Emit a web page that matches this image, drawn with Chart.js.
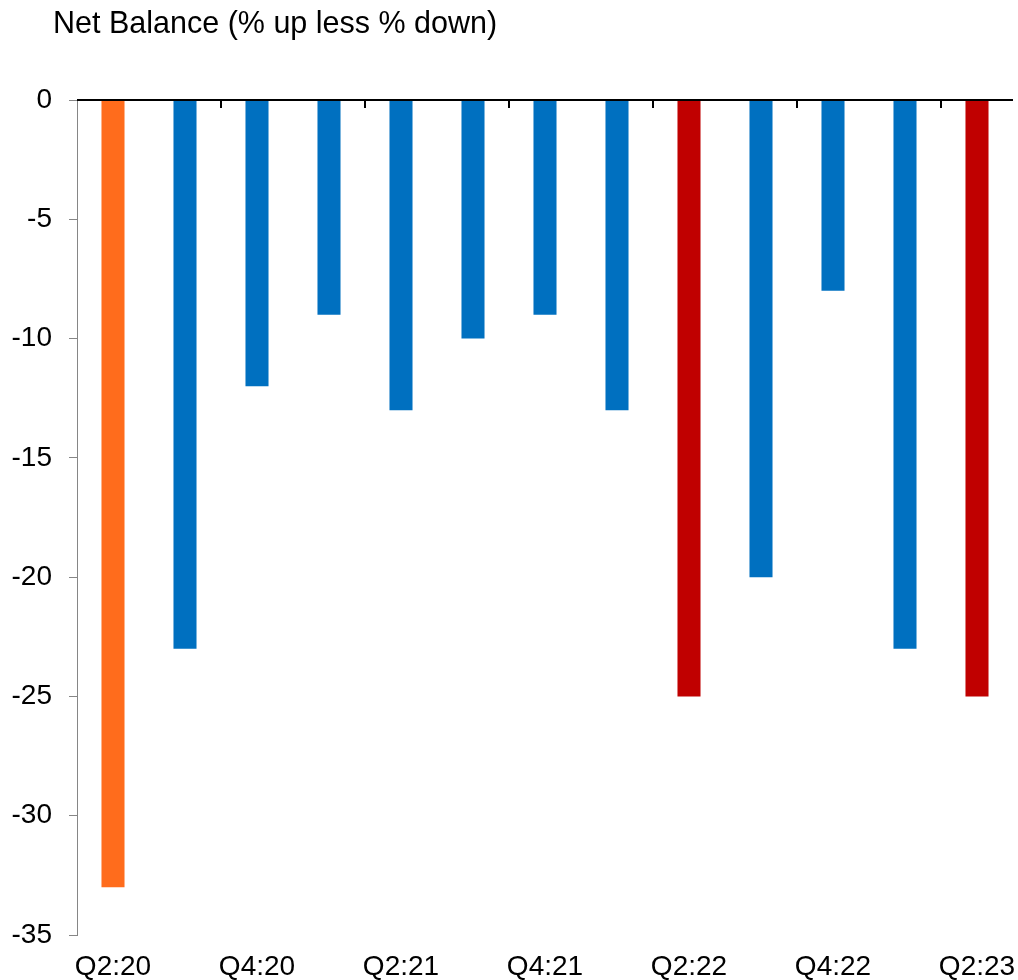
<!DOCTYPE html>
<html>
<head>
<meta charset="utf-8">
<script src="https://cdn.jsdelivr.net/npm/chart.js@4"></script>
<style>
  html, body { margin: 0; padding: 0; background: #ffffff; }
  #wrap { position: relative; width: 1018px; height: 980px; }
  #title {
    position: absolute; left: 53px; top: 5px;
    font-family: "Liberation Sans", Arial, sans-serif;
    font-size: 30.5px; color: #000000; white-space: nowrap;
  }
  canvas { position: absolute; left: 0; top: 0; }
</style>
</head>
<body>
<div id="wrap">
  <canvas id="chart" width="1018" height="980"></canvas>
  <div id="title">Net Balance (% up less % down)</div>
</div>
<script>
// Quarterly survey results
const quarters = ['Q2:20', 'Q3:20', 'Q4:20', 'Q1:21', 'Q2:21', 'Q3:21', 'Q4:21',
                  'Q1:22', 'Q2:22', 'Q3:22', 'Q4:22', 'Q1:23', 'Q2:23'];
const netBalance = [-33, -23, -12, -9, -13, -10, -9, -13, -25, -20, -8, -23, -25];
const yTicks = [0, -5, -10, -15, -20, -25, -30, -35];

// Bar colours: first quarter orange, Q2 of 2022 and 2023 red, the rest blue
const barColours = ['#FF6C1C', '#0070C0', '#0070C0', '#0070C0', '#0070C0', '#0070C0', '#0070C0',
                    '#0070C0', '#C00000', '#0070C0', '#0070C0', '#0070C0', '#C00000'];

const FONT = 'Liberation Sans, Arial, sans-serif';

// Zero line with short inward tick marks every second quarter boundary
const zeroAxis = {
  id: 'zeroAxis',
  afterDatasetsDraw(chart) {
    const { ctx, chartArea, scales } = chart;
    const x = scales.x, y = scales.y;
    const y0 = y.getPixelForValue(0);
    ctx.save();
    ctx.strokeStyle = '#000000';
    ctx.lineWidth = 2;
    ctx.beginPath();
    ctx.moveTo(chartArea.left, y0);
    ctx.lineTo(chartArea.right, y0);
    ctx.stroke();
    for (let i = 1; i < quarters.length - 1; i += 2) {
      const bx = Math.round((x.getPixelForValue(i) + x.getPixelForValue(i + 1)) / 2);
      ctx.beginPath();
      ctx.moveTo(bx, y0);
      ctx.lineTo(bx, y0 + 8);
      ctx.stroke();
    }
    ctx.restore();
  }
};

new Chart(document.getElementById('chart'), {
  type: 'bar',
  data: {
    labels: quarters,
    datasets: [{
      data: netBalance,
      backgroundColor: barColours,
      borderWidth: 0,
      categoryPercentage: 1,
      barPercentage: 0.32
    }]
  },
  options: {
    responsive: false,
    animation: false,
    layout: { padding: { top: 100, right: 5, left: 0, bottom: 0 } },
    plugins: { legend: { display: false }, tooltip: { enabled: false }, title: { display: false } },
    scales: {
      x: {
        grid: { display: false },
        border: { display: false },
        afterFit(scale) {
          scale.height = 45;
          scale.paddingLeft = 0;
          scale.paddingRight = 0;
        },
        ticks: {
          autoSkip: false, maxRotation: 0, minRotation: 0,
          padding: 7,
          color: '#000000',
          font: { family: FONT, size: 28 },
          callback(value, index) { return index % 2 === 0 ? quarters[index] : ''; }
        }
      },
      y: {
        min: -35, max: 0,
        afterFit(scale) {
          scale.width = 77;
          scale.paddingTop = 0;
          scale.paddingBottom = 0;
        },
        afterBuildTicks(scale) { scale.ticks = yTicks.map(v => ({ value: v })); },
        grid: { drawOnChartArea: false, drawTicks: true, tickLength: 8, tickColor: '#868686' },
        border: { display: true, color: '#868686', width: 1 },
        ticks: {
          padding: 17,
          color: '#000000',
          font: { family: FONT, size: 28 }
        }
      }
    }
  },
  plugins: [zeroAxis]
});
</script>
</body>
</html>
